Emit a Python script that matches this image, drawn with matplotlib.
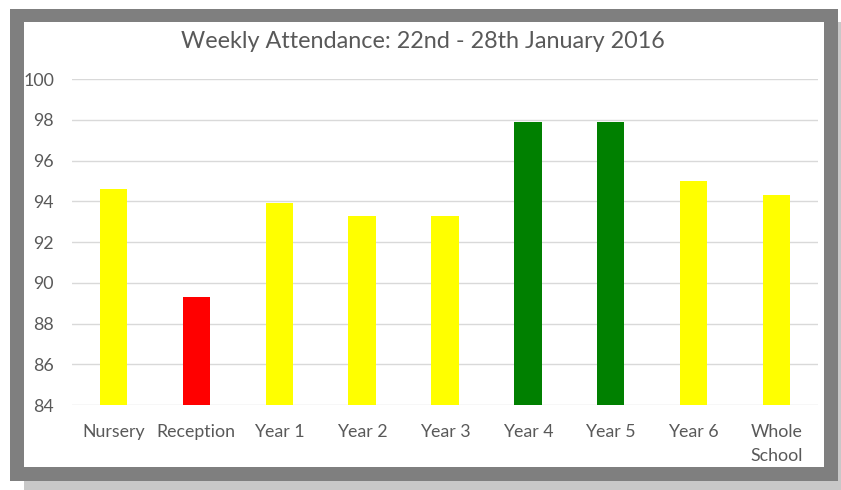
import matplotlib.pyplot as plt
from matplotlib.patches import Rectangle

groups = ['Nursery', 'Reception', 'Year 1', 'Year 2', 'Year 3', 'Year 4', 'Year 5', 'Year 6', 'Whole\nSchool']
attendance = [94.6, 89.3, 93.9, 93.3, 93.3, 97.9, 97.9, 95.0, 94.3]
bar_colors = ['#ffff00', '#ff0000', '#ffff00', '#ffff00', '#ffff00', '#008000', '#008000', '#ffff00', '#ffff00']

W, H = 841, 490
plt.rcParams['font.family'] = ['Lato', 'DejaVu Sans']
fig = plt.figure(figsize=(W / 100, H / 100), dpi=100)


def box(x0, y0, x1, y1, color):
    # pixel coords (top-left origin) -> figure rectangle
    fig.add_artist(Rectangle((x0 / W, 1 - y1 / H), (x1 - x0) / W, (y1 - y0) / H,
                             transform=fig.transFigure, color=color, lw=0, zorder=-10))


box(24, 22, 841, 490, '#c8c8c8')   # shadow
box(10, 9, 838, 481, '#7f7f7f')    # frame
box(24, 22, 824, 467, 'white')     # chart area

ax = fig.add_axes([72 / W, 1 - 405 / H, 746 / W, 326 / H])
ax.set_facecolor('none')
ax.bar(range(len(groups)), attendance, width=0.33, color=bar_colors, zorder=3)
ax.set_ylim(84, 100)
ax.set_xlim(-0.5, len(groups) - 0.5)
ax.set_yticks(range(84, 101, 2))
ax.set_xticks(range(len(groups)))
ax.set_xticklabels(groups, linespacing=1.6, va='top')
ax.grid(axis='y', color='#d9d9d9', lw=1, zorder=0)
ax.tick_params(length=0, labelsize=12.8, labelcolor='#595959')
ax.tick_params(axis='y', pad=13)
ax.tick_params(axis='x', pad=14)
for s in ax.spines.values():
    s.set_visible(False)

fig.text(423 / W, 1 - 42 / H, 'Weekly Attendance: 22nd - 28th January 2016',
         ha='center', va='center', fontsize=16.8, color='#595959')

fig.savefig('out.png', dpi=100)
